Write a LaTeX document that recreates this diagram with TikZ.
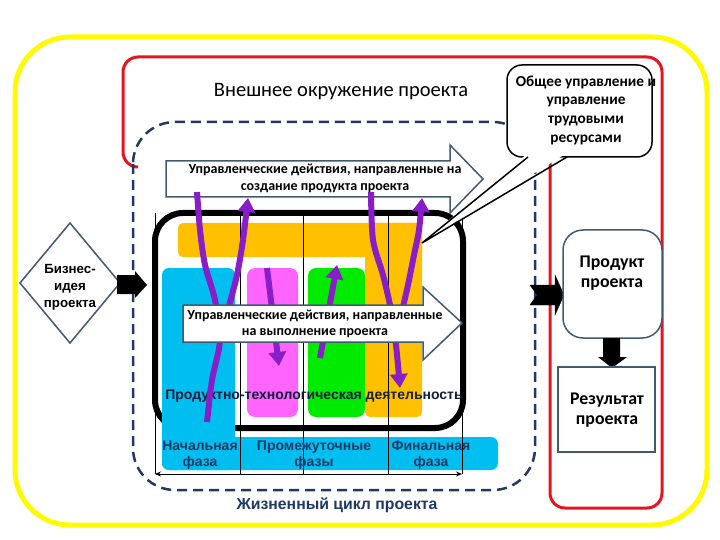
\documentclass[tikz,border=0pt]{standalone}
\usepackage{fontspec}
\setmainfont{Carlito}
\newfontfamily\arf{Liberation Sans}
\usetikzlibrary{arrows.meta}
\definecolor{navy}{RGB}{31,56,100}
\definecolor{slate}{RGB}{65,90,115}
\definecolor{myred}{RGB}{230,20,30}
\definecolor{myyellow}{RGB}{255,250,0}
\definecolor{myorange}{RGB}{255,192,0}
\definecolor{mycyan}{RGB}{0,190,240}
\definecolor{mymag}{RGB}{255,100,255}
\definecolor{mygreen}{RGB}{0,235,0}
\definecolor{mypurple}{RGB}{135,30,200}
\definecolor{darktext}{RGB}{20,30,60}
\begin{document}
\begin{tikzpicture}[x=1pt,y=-1pt,
  blockline/.style={draw=slate, line width=1.5pt, fill=white},
  purp/.style={draw=mypurple, line width=6pt},
  purpar/.style={purp, -{Triangle[length=14pt,width=17pt]}},
  thinline/.style={draw=black, line width=0.8pt},
  lbl/.style={inner sep=0pt, align=center},
  blocktxt/.style={lbl, font=\bfseries\fontsize{14}{17}\selectfont},
  phasetxt/.style={lbl, text=navy, font=\arf\bfseries\fontsize{14}{16}\selectfont},
  boxtxt/.style={lbl, font=\bfseries\fontsize{17.8}{19.5}\selectfont}]
\useasboundingbox (0,0) rectangle (720,540);

% yellow frame
\draw[myyellow, line width=5pt, rounded corners=55pt] (15,37) rectangle (707,525);
% red frame
\draw[myred, line width=3pt, rounded corners=15pt] (135,167) -- (123,167) -- (123,57) -- (662,57) -- (662,508) -- (550,508) -- (550,160);
% dashed project boundary
\draw[navy, line width=2.5pt, dash pattern=on 10pt off 6pt, rounded corners=42pt] (133,122) rectangle (535,490);

\node[lbl, font=\fontsize{20.5}{22}\selectfont] (env) at (341,92) {Внешнее окружение проекта};

% upper block arrow
\draw[blockline] (166,161) -- (450,161) -- (450,145) -- (483,179) -- (450,213) -- (450,197) -- (166,197) -- cycle;
\node[blocktxt] (upper) at (325,178) {Управленческие действия, направленные на\\создание продукта проекта};

% inner thick frame
\draw[black, line width=6pt, rounded corners=28pt] (155,213) rectangle (463,428);

% coloured blocks
\fill[myorange, rounded corners=5pt] (178,223) rectangle (422,257);
\fill[myorange, rounded corners=5pt] (365,223) rectangle (422,417);
\fill[mycyan, rounded corners=7pt] (162,268) rectangle (235,470);
\fill[mycyan, rounded corners=7pt] (162,437) rectangle (498,470);
\fill[mymag, rounded corners=8pt] (247,268) rectangle (298,417);
\fill[mygreen, rounded corners=8pt] (308,268) rectangle (365,417);

% phase divider lines
\foreach \xx in {155,240,303,388,462} \draw[thinline] (\xx,213) -- (\xx,474);
\draw[thinline, {Stealth[length=6pt,width=5pt]}-{Stealth[length=6pt,width=5pt]}] (155,474) -- (462,474);

\node[lbl, text=darktext, font=\arf\bfseries\fontsize{14}{16}\selectfont] (prod) at (314,396) {Продуктно-технологическая деятельность};

% purple flows
\draw[purp] plot[smooth] coordinates {(197,192) (200,230) (205,265) (215,300) (220,340) (212,380) (207,422)};
\draw[purpar] plot[smooth] coordinates {(220,342) (228,310) (237,275) (243,240) (248,198)};
\draw[purpar] (267,268) -- (279,366);
\draw[purpar] (320,358) -- (337,265);
\draw[purpar] plot[smooth] coordinates {(371,192) (373,240) (383,275) (391,310) (396,345) (400,388)};
\draw[purpar] plot[smooth] coordinates {(400,320) (408,285) (414,255) (419,230) (422,198)};

% lower block arrow
\draw[blockline] (183,305) -- (423,305) -- (423,287) -- (462,323) -- (423,360) -- (423,342) -- (183,342) -- cycle;
\node[blocktxt, font=\bfseries\fontsize{14}{16.5}\selectfont] (lower) at (315,324) {Управленческие действия, направленные\\на выполнение проекта};

% phase labels
\node[phasetxt] (ph1) at (200,455) {Начальная\\фаза};
\node[phasetxt] (ph2) at (314,455) {Промежуточные\\фазы};
\node[phasetxt] (ph3) at (431,455) {Финальная\\фаза};
\node[lbl, text=navy, font=\arf\bfseries\fontsize{15.8}{17}\selectfont] (life) at (337,505) {Жизненный цикл проекта};

% callout
\draw[black, line width=1.5pt, fill=white, rounded corners=15pt] (507,65) rectangle (652,157);
\fill[white] (528,153) -- (422,243) -- (567,153) -- cycle;
\draw[black, line width=1.5pt] (528,157) -- (422,243) -- (567,157);
\node[lbl, font=\bfseries\fontsize{15.3}{18.7}\selectfont] (call) at (586,110) {Общее управление и\\управление\\трудовыми\\ресурсами};

% business idea
\draw[blockline] (70,223) -- (120,283) -- (70,343) -- (20,283) -- cycle;
\node[lbl, font=\arf\bfseries\fontsize{13.3}{17}\selectfont] (idea) at (70,287) {Бизнес-\\идея\\проекта};
\fill[black] (117,275) -- (135,275) -- (135,271) -- (147,285) -- (135,298) -- (135,294) -- (117,294) -- cycle;

% product
\draw[black, fill=black] (530,285) -- (555,285) -- (555,275) -- (564,295) -- (555,315) -- (555,305) -- (530,305) -- (537,295) -- cycle;
\draw[blockline, rounded corners=20pt] (563,230) rectangle (662,338);
\node[boxtxt] (product) at (612,273) {Продукт\\проекта};
\fill[black] (603,338) -- (620,338) -- (620,357) -- (627,357) -- (612,368) -- (598,357) -- (603,357) -- cycle;
\draw[blockline] (558,367) rectangle (655,452);
\node[boxtxt] (result) at (607,410) {Результат\\проекта};
\end{tikzpicture}
\end{document}
